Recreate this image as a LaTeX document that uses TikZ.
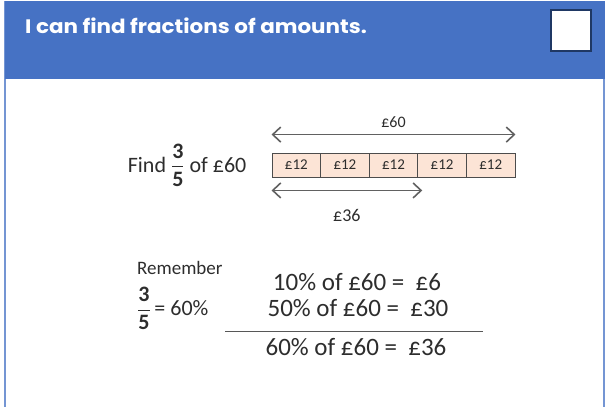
\documentclass[tikz,border=0pt]{standalone}
\usepackage{amsmath}
\usepackage{fontspec}
\setmainfont{Carlito}
\newfontfamily\headfont[FakeStretch=1.1]{Poppins}
\usepackage{tikz}
\usetikzlibrary{arrows.meta,positioning}
\definecolor{hdrblue}{RGB}{70,114,196}
\definecolor{boxnavy}{RGB}{31,56,100}
\definecolor{barfill}{RGB}{252,228,214}
\definecolor{ink}{RGB}{45,45,45}
\newcommand{\threefifths}{$\dfrac{\textbf{3}}{\textbf{5}}$}

\begin{document}
\begin{tikzpicture}[x=1pt,y=-1pt,font=\fontsize{22}{24}\selectfont,text=ink,
  cell/.style={draw=ink!85,line width=0.9pt,fill=barfill,minimum width=48.6pt,minimum height=24pt,inner sep=0pt,font=\fontsize{15}{16}\selectfont},
  dim/.style={{Straight Barb[length=8pt,width=15pt,line width=1.6pt]}-{Straight Barb[length=8pt,width=15pt,line width=1.6pt]},line width=1.6pt,draw=ink!75},
  calc/.style={inner sep=0pt,font=\fontsize{25}{27}\selectfont}]
\useasboundingbox (0,0) rectangle (605,407);
% panel frame and header
\draw[hdrblue!75,line width=1.5pt] (5,1) -- (5,407) (604,1) -- (604,407);
\fill[hdrblue] (5,1) rectangle (605,79);
\node[draw=boxnavy,line width=2pt,fill=white,minimum width=40pt,minimum height=41pt] (tick) at (571,30.5) {};
\node[anchor=base west,text=white,inner sep=0pt,font=\headfont\bfseries\fontsize{19.5}{21}\selectfont] (title) at (25,33) {I can find fractions of amounts.};

% bar model
\foreach \i in {1,...,5}
  \node[cell] (c\i) at ({247.7+48.6*\i},165) {£12};
\node[inner sep=0pt,left=25pt of c1] (find) {Find \threefifths\ of £60};
\draw[dim] ([yshift=18pt]c1.north west) -- node[above=3pt,font=\fontsize{16}{18}\selectfont]{£60} ([yshift=18pt]c5.north east);
\draw[dim] ([yshift=-13pt]c1.south west) -- node[below=15pt,font=\fontsize{18}{20}\selectfont]{£36} ([xshift=4pt,yshift=-13pt]c3.south east);

% percentages
\node[inner sep=0pt,anchor=west,font=\fontsize{19}{20}\selectfont] (remember) at (137,268) {Remember};
\node[inner sep=0pt,below right=12pt and 0pt of remember.south west] (equiv) {\threefifths\,= 60\%};
\node[calc] (ten) at (357,282) {10\% of £60 =\ \ £6};
\node[calc] (fifty) at (358,308) {50\% of £60 =\ \ £30};
\coordinate (ruleL) at (225,331);
\coordinate (ruleR) at (483,331);
\draw[thick,ink!80] (ruleL) -- (ruleR);
\node[calc] (sixty) at (356,347) {60\% of £60 =\ \ £36};
\end{tikzpicture}
\end{document}
